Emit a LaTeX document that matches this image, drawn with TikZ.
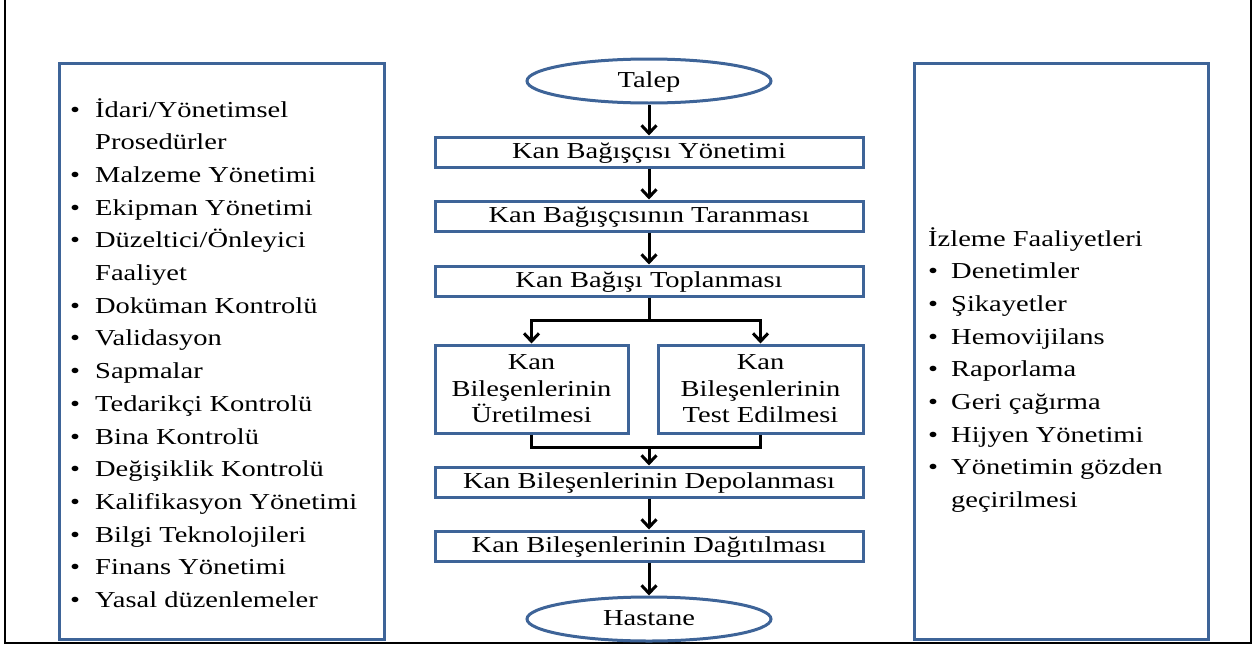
\documentclass[tikz,border=0pt]{standalone}
\usepackage{fontspec}
\usepackage{tikz}
\usetikzlibrary{arrows.meta,shapes.geometric}
\newfontfamily\diagfont{Liberation Serif}[FakeStretch=1.25]
\definecolor{boxblue}{HTML}{3E6498}

\begin{document}
\begin{tikzpicture}[x=1pt,y=-1pt,
    flowbox/.style={draw=boxblue,line width=3pt,minimum width=428pt,minimum height=30pt,inner sep=0pt,
      text height=17pt,text depth=5pt,font=\diagfont\fontsize{22.8}{26.6}\selectfont},
    splitbox/.style={flowbox,text height=,text depth=,minimum height=88pt,align=center},
    endpoint/.style={flowbox,ellipse,minimum width=244pt,minimum height=44pt},
    panel/.style={draw=boxblue,line width=3pt,inner sep=0pt},
    listtext/.style={inner sep=0pt,anchor=base west,font=\diagfont\fontsize{22.8}{32.7}\selectfont},
    flowline/.style={line width=3pt},
    flowarrow/.style={flowline,-{Straight Barb[length=8pt,width=15pt]}}]
      \useasboundingbox (0,0) rectangle (1255,645);
      \draw[line width=2pt] (5,-5) -- (5,643) -- (1251,643) -- (1251,-5);

      \node[panel,minimum width=325pt,minimum height=576pt] (sol-panel) at (222,351.5) {};
      \node[panel,minimum width=294pt,minimum height=576pt] (sag-panel) at (1061.5,351.5) {};

      \node (talep)       [endpoint] at (649,81)    {Talep};
      \node (bagisci-yon) [flowbox]  at (649,152)   {Kan Bağışçısı Yönetimi};
      \node (tarama)      [flowbox]  at (649,216)   {Kan Bağışçısının Taranması};
      \node (toplama)     [flowbox]  at (649,281)   {Kan Bağışı Toplanması};
      \node (uretim)      [splitbox,minimum width=193pt] at (531.5,389) {Kan\\Bileşenlerinin\\Üretilmesi};
      \node (test)        [splitbox,minimum width=205pt] at (760.5,389) {Kan\\Bileşenlerinin\\Test Edilmesi};
      \node (depolama)    [flowbox]  at (649,482)   {Kan Bileşenlerinin Depolanması};
      \node (dagitim)     [flowbox]  at (649,546)   {Kan Bileşenlerinin Dağıtılması};
      \node (hastane)     [endpoint] at (649,619)   {Hastane};

      \coordinate (ayrim)    at (649,320);
      \coordinate (birlesim) at (649,447);

      \draw[flowarrow] (talep) -- (bagisci-yon);
      \draw[flowarrow] (bagisci-yon) -- (tarama);
      \draw[flowarrow] (tarama) -- (toplama);
      \draw[flowline]  (toplama) -- (ayrim);
      \draw[flowarrow] (ayrim) -| (uretim);
      \draw[flowarrow] (ayrim) -| (test);
      \draw[flowline]  (uretim) |- (birlesim) -| (test);
      \draw[flowarrow] (birlesim) -- (depolama);
      \draw[flowarrow] (depolama) -- (dagitim);
      \draw[flowarrow] (dagitim) -- (hastane);

      % destek surecleri
      \node (destek-liste) [listtext] at (70,117) {\begin{tabular}[t]{@{}l@{\hspace{15pt}}l@{}}
        \textbullet & İdari/Yönetimsel\\
                    & Prosedürler\\
        \textbullet & Malzeme Yönetimi\\
        \textbullet & Ekipman Yönetimi\\
        \textbullet & Düzeltici/Önleyici\\
                    & Faaliyet\\
        \textbullet & Doküman Kontrolü\\
        \textbullet & Validasyon\\
        \textbullet & Sapmalar\\
        \textbullet & Tedarikçi Kontrolü\\
        \textbullet & Bina Kontrolü\\
        \textbullet & Değişiklik Kontrolü\\
        \textbullet & Kalifikasyon Yönetimi\\
        \textbullet & Bilgi Teknolojileri\\
        \textbullet & Finans Yönetimi\\
        \textbullet & Yasal düzenlemeler
      \end{tabular}};

      % izleme faaliyetleri
      \node (izleme-liste) [listtext] at (928,246) {\begin{tabular}[t]{@{}l@{\hspace{13pt}}l@{}}
        \multicolumn{2}{@{}l@{}}{İzleme Faaliyetleri}\\
        \textbullet & Denetimler\\
        \textbullet & Şikayetler\\
        \textbullet & Hemovijilans\\
        \textbullet & Raporlama\\
        \textbullet & Geri çağırma\\
        \textbullet & Hijyen Yönetimi\\
        \textbullet & Yönetimin gözden\\
                    & geçirilmesi
      \end{tabular}};
    \end{tikzpicture}
\end{document}
